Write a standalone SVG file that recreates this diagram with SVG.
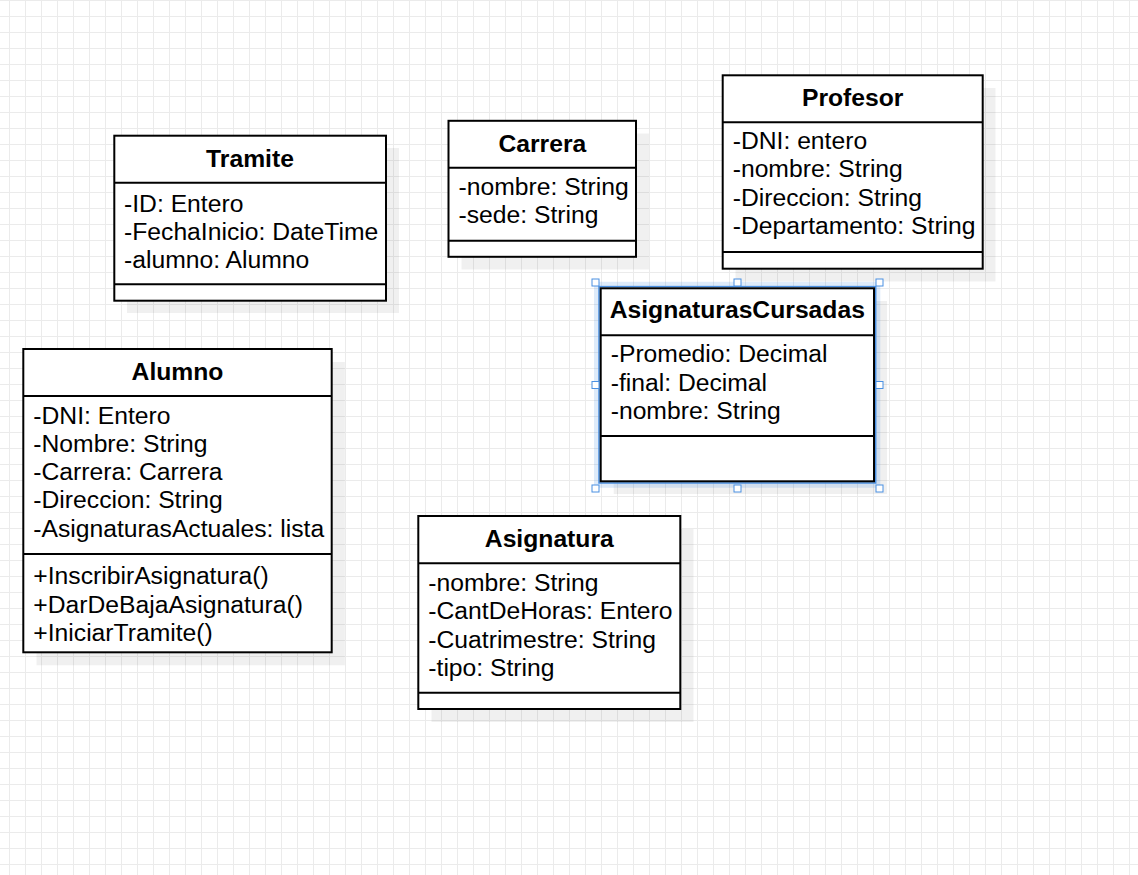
<svg xmlns="http://www.w3.org/2000/svg" width="1138" height="875" viewBox="0 0 1138 875">
<defs>
<pattern id="grid" x="0" y="0" width="16" height="16" patternUnits="userSpaceOnUse">
<path d="M9.5 0V16M0 0.5H16" fill="none" stroke="#ebebeb" stroke-width="1"/>
</pattern>
<style>
.box{fill:#fff;stroke:#000;stroke-width:2}
.sep{stroke:#000;stroke-width:2}
.shadow{fill:#000;fill-opacity:0.06}
.t{font-family:"Liberation Sans",Arial,sans-serif;font-size:24.7px;fill:#000}
.h{font-family:"Liberation Sans",Arial,sans-serif;font-size:24.7px;font-weight:bold;fill:#000;text-anchor:middle}
.hd{fill:#fff;stroke:#4a90e2;stroke-width:1}
</style>
</defs>
<rect width="1138" height="875" fill="#fff"/>
<rect width="1138" height="875" fill="url(#grid)"/>

<g id="connectors"></g>

<g id="tramite">
<rect class="shadow" x="127" y="148" width="272" height="165"/>
<rect class="box" x="114.3" y="135.7" width="271.7" height="165"/>
<line class="sep" x1="114.3" y1="182.7" x2="386" y2="182.7"/>
<line class="sep" x1="114.3" y1="284.3" x2="386" y2="284.3"/>
<text class="h" x="250" y="166.7">Tramite</text>
<text class="t" x="124" y="211.7">-ID: Entero</text>
<text class="t" x="124" y="240">-FechaInicio: DateTime</text>
<text class="t" x="124" y="268.3">-alumno: Alumno</text>
</g>

<g id="carrera">
<rect class="shadow" x="461.5" y="133.5" width="187.5" height="136"/>
<rect class="box" x="448.5" y="120.8" width="187.5" height="136"/>
<line class="sep" x1="448.5" y1="167.8" x2="636" y2="167.8"/>
<line class="sep" x1="448.5" y1="240.8" x2="636" y2="240.8"/>
<text class="h" x="542.3" y="151.7">Carrera</text>
<text class="t" x="458.5" y="195">-nombre: String</text>
<text class="t" x="458.5" y="223.3">-sede: String</text>
</g>

<g id="profesor">
<rect class="shadow" x="735.5" y="88" width="260" height="193.5"/>
<rect class="box" x="722.7" y="75.3" width="260" height="193.4"/>
<line class="sep" x1="722.7" y1="122.3" x2="982.7" y2="122.3"/>
<line class="sep" x1="722.7" y1="252" x2="982.7" y2="252"/>
<text class="h" x="852.7" y="106">Profesor</text>
<text class="t" x="732.7" y="149">-DNI: entero</text>
<text class="t" x="732.7" y="177.3">-nombre: String</text>
<text class="t" x="732.7" y="205.7">-Direccion: String</text>
<text class="t" x="732.7" y="234">-Departamento: String</text>
</g>

<g id="asignaturasCursadas">
<rect class="shadow" x="613.7" y="301" width="273.3" height="193"/>
<rect x="597" y="284.8" width="280.3" height="200" fill="none" stroke="#4a90e2" stroke-opacity="0.18" stroke-width="6"/>
<rect x="599" y="286.6" width="276.7" height="196.4" fill="none" stroke="#4a90e2" stroke-width="1.5"/>
<rect class="box" x="600.7" y="288.3" width="273.3" height="193"/>
<line class="sep" x1="600.7" y1="335.3" x2="874" y2="335.3"/>
<line class="sep" x1="600.7" y1="436" x2="874" y2="436"/>
<text class="h" x="737.3" y="318.3">AsignaturasCursadas</text>
<text class="t" x="610.7" y="362">-Promedio: Decimal</text>
<text class="t" x="610.7" y="390.5">-final: Decimal</text>
<text class="t" x="610.7" y="419">-nombre: String</text>
<rect class="hd" x="592" y="279" width="7" height="7"/>
<rect class="hd" x="734" y="279" width="7" height="7"/>
<rect class="hd" x="876" y="279" width="7" height="7"/>
<rect class="hd" x="592" y="381.5" width="7" height="7"/>
<rect class="hd" x="876" y="381.5" width="7" height="7"/>
<rect class="hd" x="592" y="485" width="7" height="7"/>
<rect class="hd" x="734" y="485" width="7" height="7"/>
<rect class="hd" x="876" y="485" width="7" height="7"/>
</g>

<g id="alumno">
<rect class="shadow" x="36.5" y="362" width="308.4" height="303.3"/>
<rect class="box" x="23.3" y="349" width="308.4" height="303.3"/>
<line class="sep" x1="23.3" y1="396" x2="331.7" y2="396"/>
<line class="sep" x1="23.3" y1="554" x2="331.7" y2="554"/>
<text class="h" x="177.5" y="379.7">Alumno</text>
<text class="t" x="33.3" y="423.5">-DNI: Entero</text>
<text class="t" x="33.3" y="451.8">-Nombre: String</text>
<text class="t" x="33.3" y="480.1">-Carrera: Carrera</text>
<text class="t" x="33.3" y="508.4">-Direccion: String</text>
<text class="t" x="33.3" y="536.7">-AsignaturasActuales: lista</text>
<text class="t" x="33.3" y="584.3">+InscribirAsignatura()</text>
<text class="t" x="33.3" y="612.6">+DarDeBajaAsignatura()</text>
<text class="t" x="33.3" y="640.9">+IniciarTramite()</text>
</g>

<g id="asignatura">
<rect class="shadow" x="431.5" y="529" width="262" height="193"/>
<rect class="box" x="418.3" y="516" width="262" height="193"/>
<line class="sep" x1="418.3" y1="563.3" x2="680.3" y2="563.3"/>
<line class="sep" x1="418.3" y1="692.7" x2="680.3" y2="692.7"/>
<text class="h" x="549.3" y="546.7">Asignatura</text>
<text class="t" x="428.3" y="591">-nombre: String</text>
<text class="t" x="428.3" y="619.3">-CantDeHoras: Entero</text>
<text class="t" x="428.3" y="647.6">-Cuatrimestre: String</text>
<text class="t" x="428.3" y="675.9">-tipo: String</text>
</g>
</svg>
